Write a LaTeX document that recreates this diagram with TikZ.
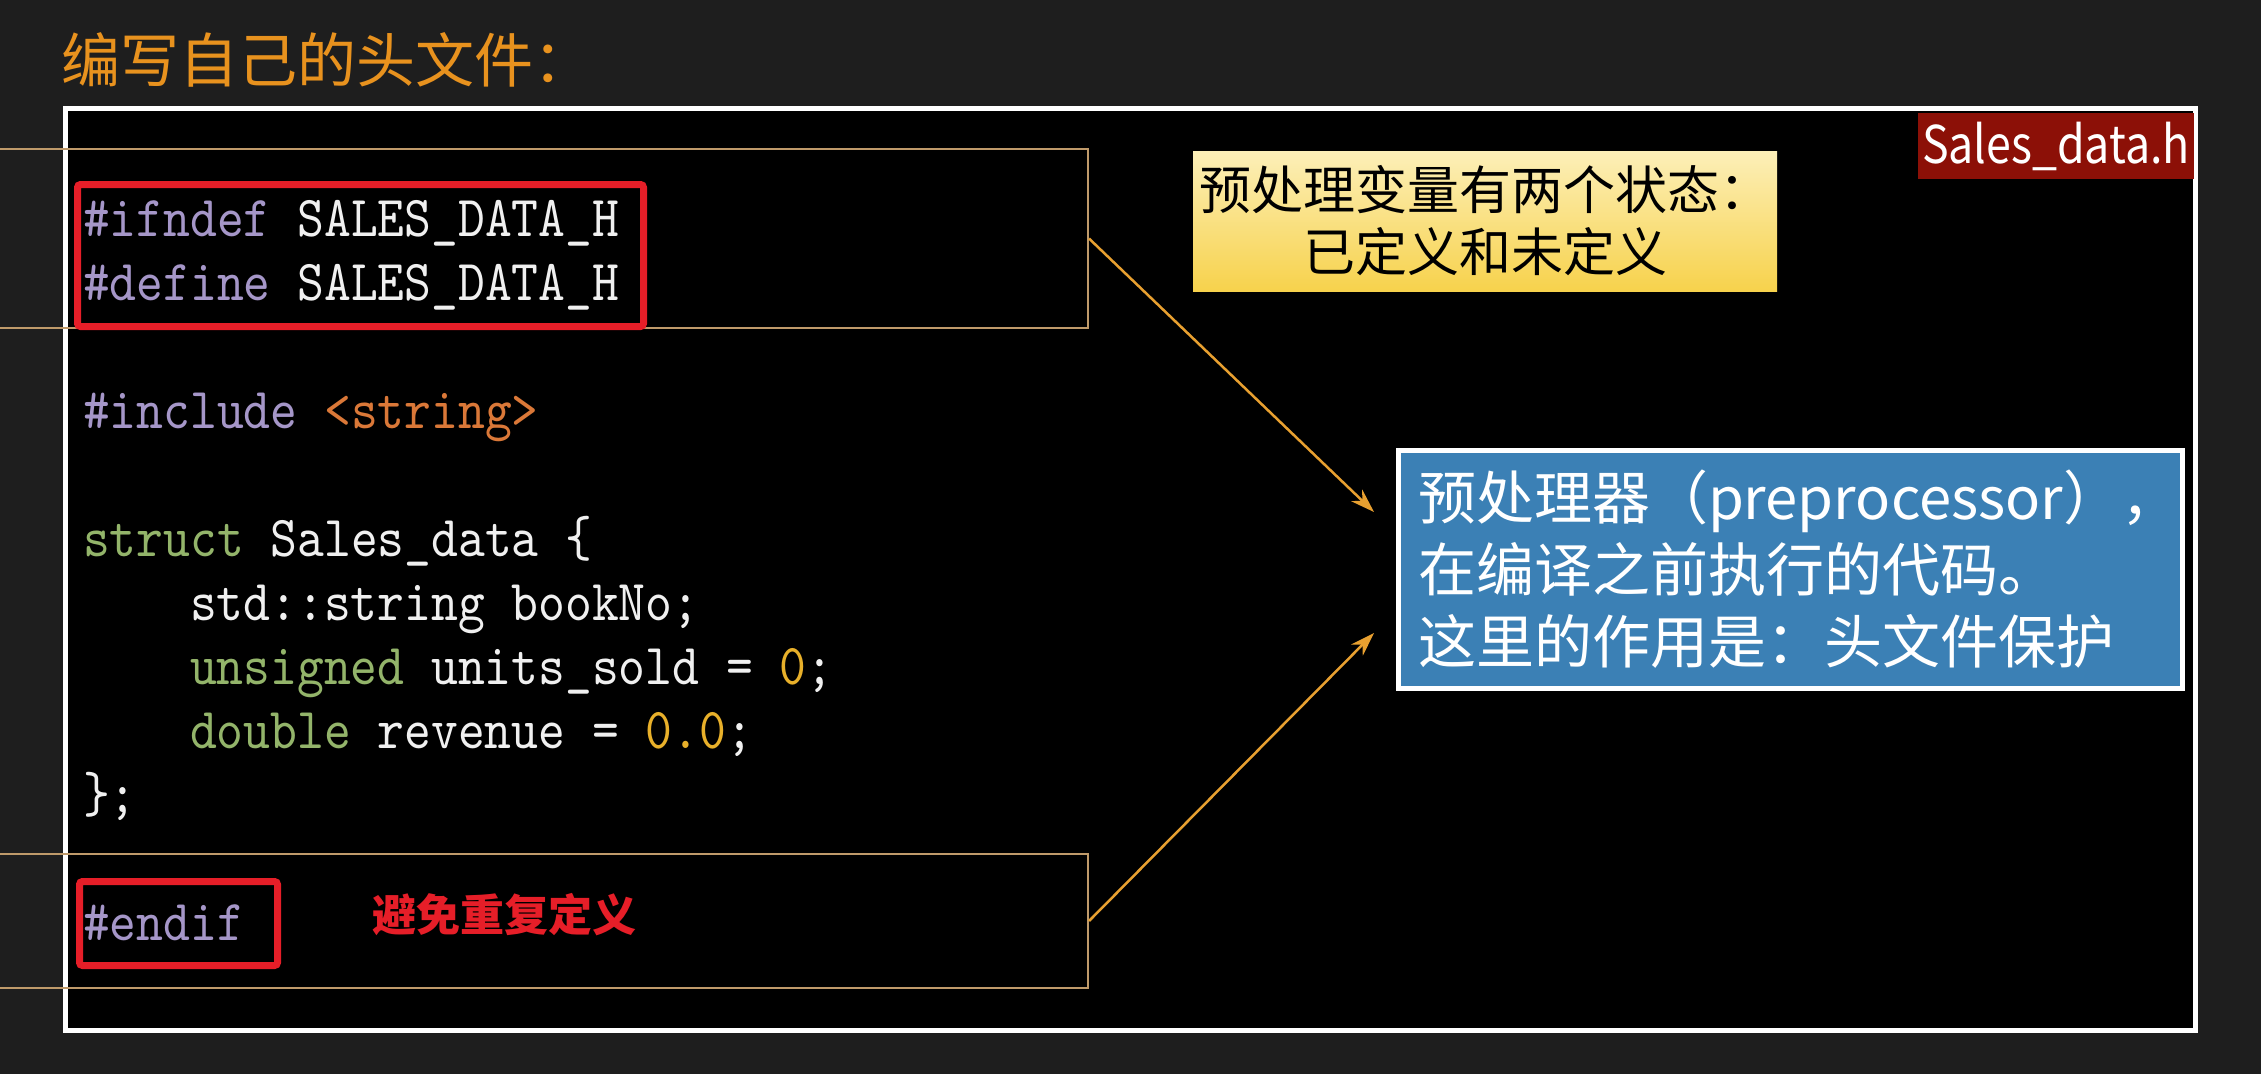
\documentclass[tikz,border=0pt]{standalone}
\usepackage{fontspec}
\usetikzlibrary{arrows.meta}
\newfontfamily\cjk{Noto Sans CJK SC}
\newfontfamily\labelfont{Noto Sans CJK SC}[FakeStretch=0.86]
\newfontfamily\codefont{lmmono10-regular.otf}[FakeStretch=0.88]
\definecolor{slidebg}{HTML}{1E1E1E}
\definecolor{titleorange}{HTML}{E8921E}
\definecolor{guardline}{HTML}{BF9A6A}
\definecolor{markred}{HTML}{E61E28}
\definecolor{arrowgold}{HTML}{E8A030}
\definecolor{preproc}{HTML}{A596C8}
\definecolor{ident}{HTML}{F0F0F0}
\definecolor{strlit}{HTML}{DA7838}
\definecolor{keyword}{HTML}{93B46A}
\definecolor{number}{HTML}{E8B02A}
\definecolor{noteblue}{HTML}{3B80B5}
\definecolor{filered}{HTML}{8C1007}
\definecolor{yellowtop}{HTML}{FCEFB8}
\definecolor{yellowbot}{HTML}{F7D24C}
\tikzset{
  codeline/.style={anchor=base west, inner sep=0pt, text=ident,
    font=\codefont\fontsize{58}{64}\selectfont},
  guardbox/.style={draw=guardline, line width=2pt, inner sep=0pt},
  redmark/.style={draw=markred, line width=7pt, rounded corners=3pt, inner sep=0pt},
  pointer/.style={draw=arrowgold, line width=2.5pt, -{Stealth[length=24pt,width=16pt]}}
}
\begin{document}
\begin{tikzpicture}[x=1pt,y=-1pt]
	\useasboundingbox (0,0) rectangle (2261,1074);
	\clip (0,0) rectangle (2261,1074);
	\fill[slidebg] (0,0) rectangle (2261,1074);

	% title
	\node[anchor=west, inner sep=0pt, text=titleorange,
		font=\cjk\fontsize{59}{64}\selectfont] (title) at (61,60) {编写自己的头文件：};

	% slide frame
	\node[fill=black, draw=white, line width=5pt, inner sep=0pt,
		minimum width=2130, minimum height=922] (slide) at (1130.5,569.5) {};

	% guarded regions
	\node[guardbox, minimum width=1108, minimum height=179] (ifblock) at (534,238.5) {};
	\node[guardbox, minimum width=1108, minimum height=134] (endblock) at (534,921) {};
	\node[redmark, minimum width=566, minimum height=142] (ifmark) at (360.5,255.5) {};
	\node[redmark, minimum width=198, minimum height=84] (endmark) at (178.5,923.5) {};

	% code
	\node[codeline] (ifndefline) at (83,236) {\textcolor{preproc}{\#ifndef} SALES\_DATA\_H};
	\node[codeline] (defineline) at (83,300) {\textcolor{preproc}{\#define} SALES\_DATA\_H};
	\node[codeline] (includeline) at (83,428) {\textcolor{preproc}{\#include} \textcolor{strlit}{<string>}};
	\node[codeline] (structline) at (83,556) {\textcolor{keyword}{struct} Sales\_data \{};
	\node[codeline] (booknoline) at (190,620) {std::string bookNo;};
	\node[codeline] (unitsline) at (190,684) {\textcolor{keyword}{unsigned} units\_sold = \textcolor{number}{0};};
	\node[codeline] (revenueline) at (190,748) {\textcolor{keyword}{double} revenue = \textcolor{number}{0.0};};
	\node[codeline] (closeline) at (83,812) {\};};
	\node[codeline] (endifline) at (83,940) {\textcolor{preproc}{\#endif}};

	\node[anchor=west, inner sep=0pt, text=markred,
		font=\cjk\bfseries\fontsize{44}{50}\selectfont] (redefnote) at (372,915) {避免重复定义};

	% notes
	\node[fill=filered, text=white, inner sep=0pt, minimum width=276, minimum height=66,
		font=\labelfont\fontsize{52}{60}\selectfont] (filename) at (2056,146) {Sales\_data.h};
	\node[top color=yellowtop, bottom color=yellowbot, text=black, align=center,
		minimum width=584, minimum height=140, inner sep=0pt,
		font=\cjk\fontsize{52}{62}\selectfont] (statenote) at (1485,221)
		{预处理变量有两个状态：\\已定义和未定义};
	\node[fill=noteblue, draw=white, line width=5pt, text=white, align=left,
		text width=745, minimum height=238, inner xsep=19.5, inner ysep=0pt,
		font=\cjk\fontsize{58}{72}\selectfont] (ppnote) at (1790.5,569.5)
		{预处理器（preprocessor），\\在编译之前执行的代码。\\这里的作用是：头文件保护};

	% arrows
	\coordinate (tipa) at (1374,512);
	\coordinate (tipb) at (1374,633);
	\draw[pointer] (ifblock.east) -- (tipa);
	\draw[pointer] (endblock.east) -- (tipb);
\end{tikzpicture}
\end{document}
